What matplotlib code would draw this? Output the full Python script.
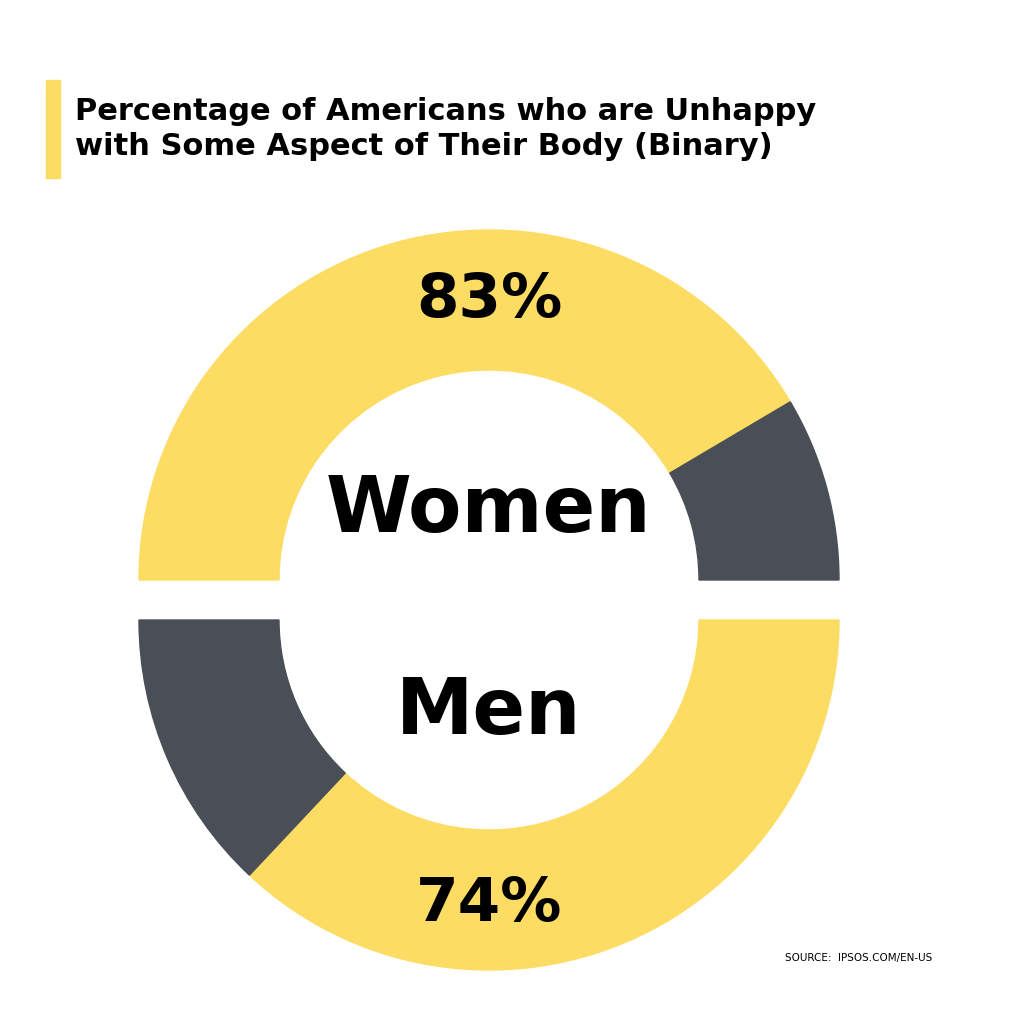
import matplotlib.pyplot as plt
from matplotlib.patches import Wedge, Rectangle

groups = ["Women", "Men"]
unhappy = [83, 74]
yellow = "#FDDC64"
dark = "#4A4F57"

fig = plt.figure(figsize=(10.24, 10.24), dpi=100)
ax = fig.add_axes([0, 0, 1, 1])
ax.set_xlim(0, 1024)
ax.set_ylim(0, 1024)
ax.axis("off")

R, w = 350, 140
cx = 489
# top half: women, yellow from left clockwise
cy_top = 1024 - 580
a = 180 - unhappy[0] / 100 * 180
ax.add_patch(Wedge((cx, cy_top), R, a, 180, width=w, color=yellow))
ax.add_patch(Wedge((cx, cy_top), R, 0, a, width=w, color=dark))
# bottom half: men, yellow from right clockwise
cy_bot = 1024 - 620
b = -unhappy[1] / 100 * 180
ax.add_patch(Wedge((cx, cy_bot), R, b, 0, width=w, color=yellow))
ax.add_patch(Wedge((cx, cy_bot), R, -180, b, width=w, color=dark))

bold = dict(family="DejaVu Sans", weight="bold", ha="center", va="center")
ax.text(cx, 1024 - 300, f"{unhappy[0]}%", fontsize=44, **bold)
ax.text(cx, 1024 - 510, groups[0], fontsize=56, **bold)
ax.text(cx, 1024 - 712, groups[1], fontsize=56, **bold)
ax.text(cx, 1024 - 905, f"{unhappy[1]}%", fontsize=44, **bold)

ax.add_patch(Rectangle((46, 1024 - 178), 14, 98, color=yellow))
ax.text(75, 1024 - 129,
        "Percentage of Americans who are Unhappy\nwith Some Aspect of Their Body (Binary)",
        fontsize=22, weight="bold", ha="left", va="center", linespacing=1.3)
ax.text(932, 1024 - 958, "SOURCE:  IPSOS.COM/EN-US", fontsize=7.5,
        family="Liberation Sans Narrow", ha="right", va="center")

fig.savefig("out.png", dpi=100)
